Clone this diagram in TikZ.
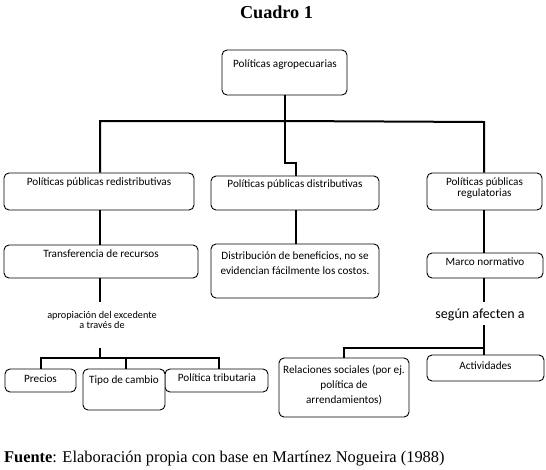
\documentclass[tikz,border=0pt]{standalone}
\usepackage{fontspec}
\setmainfont{Liberation Serif}
\newfontfamily\boxfont{Carlito}
\begin{document}
\begin{tikzpicture}[x=1pt,y=-1pt,
  box/.style={draw=black,line width=0.9pt,rounded corners=5pt,inner sep=0pt},
  conn/.style={draw=black,line width=2pt},
  lbl/.style={font=\boxfont\fontsize{11.2}{12}\selectfont,align=center,inner sep=0pt},
]
\useasboundingbox (0,0) rectangle (546,469);
\node[font=\bfseries\fontsize{18.2}{20}\selectfont,inner sep=0pt] (title) at (276.5,12) {Cuadro 1};
% boxes
\node[box,minimum width=125pt,minimum height=45pt] (top) at (284.5,72.5) {};
\node[box,minimum width=190pt,minimum height=37pt] (red) at (99,191.5) {};
\node[box,minimum width=168pt,minimum height=34pt] (dist) at (295,193) {};
\node[box,minimum width=115pt,minimum height=37pt] (reg) at (484.5,191.5) {};
\node[box,minimum width=194pt,minimum height=33pt] (trans) at (101,261.5) {};
\node[box,minimum width=168pt,minimum height=54pt] (distb) at (295,271) {};
\node[box,minimum width=116pt,minimum height=25pt] (marco) at (485,265.5) {};
\node[box,minimum width=71pt,minimum height=23pt] (precios) at (40.5,380.5) {};
\node[box,minimum width=103pt,minimum height=23pt] (trib) at (216.5,380.5) {};
\node[box,minimum width=82pt,minimum height=41pt,fill=white] (tipo) at (124,389.5) {};
\node[box,minimum width=130pt,minimum height=59pt] (rel) at (344,387.5) {};
\node[box,minimum width=117pt,minimum height=26pt] (act) at (485.5,368) {};
% texts
\node[lbl] (ttop) at (285,65) {Políticas agropecuarias};
\node[lbl] (tred) at (99,183) {Políticas públicas redistributivas};
\node[lbl] (tdist) at (295,185) {Políticas públicas distributivas};
\node[lbl,font=\boxfont\fontsize{11.2}{10.6}\selectfont] (treg) at (484.5,188) {Políticas públicas\\regulatorias};
\node[lbl] (ttrans) at (101,254) {Transferencia de recursos};
\node[lbl,font=\boxfont\fontsize{11.2}{15}\selectfont] (tdistb) at (295,263.5) {Distribución de beneficios, no se\\evidencian fácilmente los costos.};
\node[lbl] (tmarco) at (485,261.7) {Marco normativo};
\node[lbl] (tprecios) at (40.5,379) {Precios};
\node[lbl] (ttipo) at (124,381) {Tipo de cambio};
\node[lbl] (ttrib) at (217,378) {Política tributaria};
\node[lbl,font=\boxfont\fontsize{11.2}{15}\selectfont] (trel) at (344,385) {Relaciones sociales (por ej.\\política de\\arrendamientos)};
\node[lbl] (tact) at (485.5,366) {Actividades};
\node[lbl,font=\boxfont\fontsize{10.25}{10}\selectfont] (aprop) at (102,320) {apropiación del excedente\\a través de};
\node[lbl,font=\boxfont\fontsize{14}{15}\selectfont] (segun) at (480,315) {según afecten a};
\node[anchor=west,inner sep=0pt,font=\fontsize{16.4}{18}\selectfont] (fuente) at (4,459) {\textbf{Fuente}: Elaboración propia con base en Martínez Nogueira (1988)};
% connectors
\coordinate (busL) at (100,121);
\coordinate (busM) at (285,121);
\coordinate (busR) at (484,122);
\draw[conn] (top.south -| busM) -- (busM);
\draw[conn] (busL |- red.north) -- (busL) -- (busM) -- (busR) -- (busR |- reg.north);
\draw[conn] (busM) -- (285,163) -- (296,163) -- (296,176);
\draw[conn] (busL |- red.south) -- (busL |- trans.north);
\draw[conn] (dist.south -| 296,0) -- (distb.north -| 296,0);
\draw[conn] (busR |- reg.south) -- (busR |- marco.north);
\coordinate (mend) at (484,302);
\draw[conn] (busR |- marco.south) -- (mend);
\coordinate (lend) at (100,302);
\draw[conn] (busL |- trans.south) -- (lend);
% lower left bus
\coordinate (lb) at (100,348);
\coordinate (lbus) at (100,358);
\draw[conn] (lb) -- (lbus);
\draw[conn] (precios.north) -- (precios.north |- lbus) -- (219,358) -- (219,369);
\draw[conn] (126,358) -- (126,369);
% lower right bus
\coordinate (rb) at (484,325);
\coordinate (rbus) at (484,348);
\draw[conn] (rb) -- (rbus) -- (rel.north |- rbus) -- (rel.north);
\draw[conn] (rbus) -- (rbus |- act.north);
\end{tikzpicture}
\end{document}
